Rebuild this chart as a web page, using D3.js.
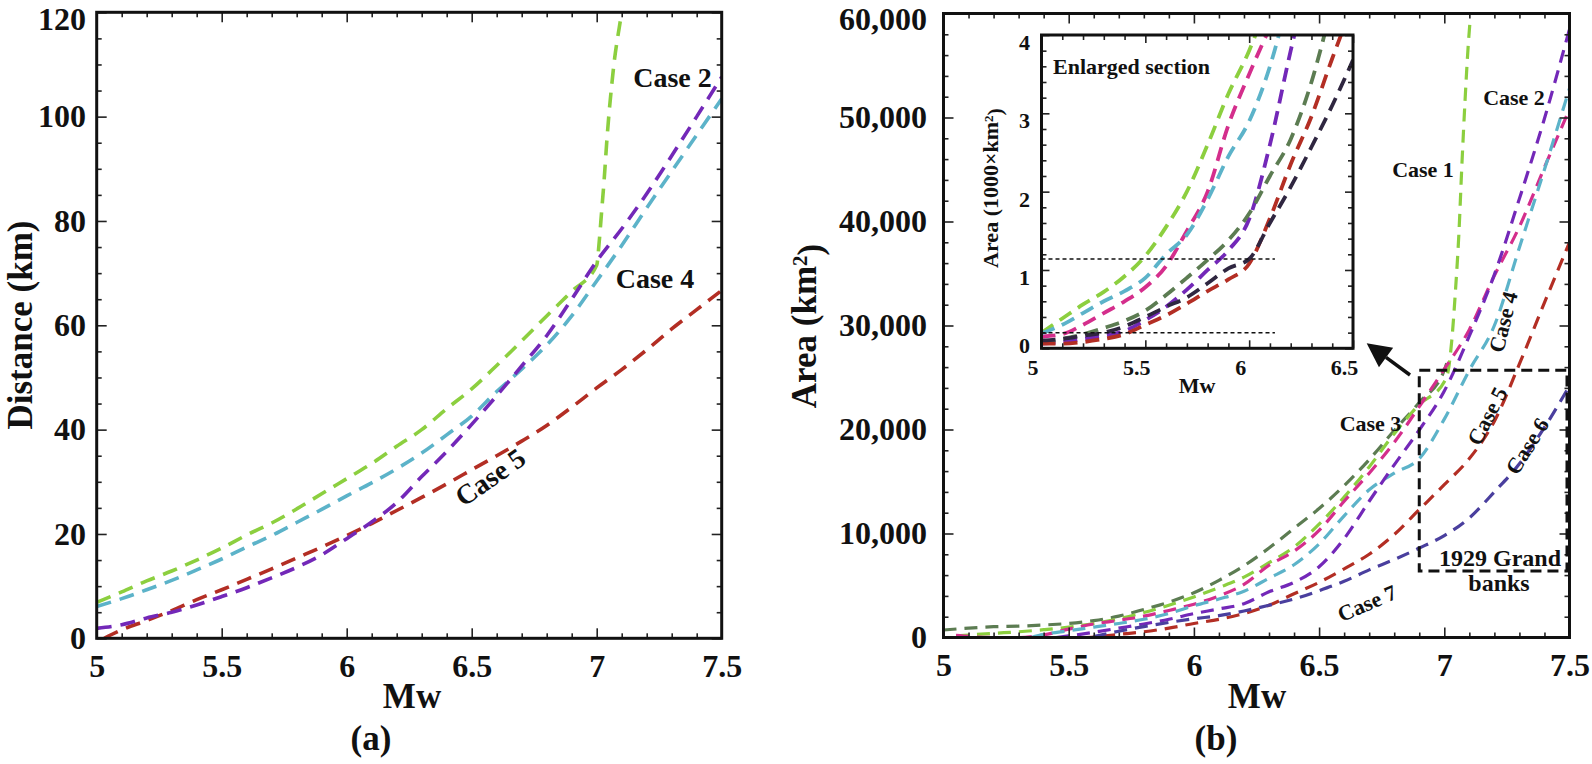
<!DOCTYPE html>
<html><head><meta charset="utf-8">
<script src="https://cdn.jsdelivr.net/npm/d3@7"></script>
<style>
html,body{margin:0;padding:0;background:#fff;}
svg text{font-family:"Liberation Serif","Times New Roman",serif;font-weight:bold;fill:#111;}
</style></head><body>
<svg id="chart" width="1592" height="764"></svg>
<script>
// ---------------- Panel (a): Distance (km) vs Mw ----------------
const aMajorX = [5, 5.5, 6, 6.5, 7, 7.5];
const aMinorX = [5.1,5.2,5.3,5.4,5.6,5.7,5.8,5.9,6.1,6.2,6.3,6.4,6.6,6.7,6.8,6.9,7.1,7.2,7.3,7.4];
const aMajorY = [0, 20, 40, 60, 80, 100, 120];
const aMinorY = [5,10,15,25,30,35,45,50,55,65,70,75,85,90,95,105,110,115];

const aMw = [5.0,5.1,5.2,5.3,5.4,5.5,5.6,5.7,5.8,5.9,6.0,6.1,6.2,6.3,6.4,6.5,6.6,6.7,6.8,6.9,7.0,7.1,7.2,7.3,7.4,7.5];
const aCase1Mw = [5.0,5.1,5.2,5.3,5.4,5.5,5.6,5.7,5.8,5.9,6.0,6.1,6.2,6.3,6.4,6.5,6.6,6.7,6.8,6.9,7.0,7.01,7.02,7.03,7.04,7.05,7.06,7.07,7.08,7.09,7.1];
const aCase1 = [6.9,8.9,11.0,12.9,15.0,17.3,19.8,22.1,24.8,27.7,30.6,33.5,36.8,40.0,44.0,47.8,52.3,57.0,61.8,66.5,71.5,76,82,88,95,101,106,110.5,114,117,120];
const aCase2 = [1.9,2.6,3.9,5.0,6.4,8.0,9.7,11.6,13.6,16.0,19.1,22.3,26.0,31.0,35.8,41.0,46.5,52.2,58.0,65.0,72.3,78.5,85.2,92.5,100.0,107.6];
const aCase4 = [6.1,7.6,9.3,11.1,13.1,15.2,17.5,19.7,22.2,24.7,27.3,29.8,32.5,35.5,39.0,42.6,47.3,51.6,56.2,61.8,68.5,75.3,82.5,89.5,96.5,103.4];
const aCase5Mw = [5.03,5.1,5.2,5.3,5.4,5.5,5.6,5.7,5.8,5.9,6.0,6.1,6.2,6.3,6.4,6.5,6.6,6.7,6.8,6.9,7.0,7.1,7.2,7.3,7.4,7.5];
const aCase5 = [0,1.6,3.4,5.3,7.4,9.3,11.3,13.3,15.4,17.5,19.7,22.0,24.5,27.0,29.6,32.3,35.0,37.8,40.8,44.3,48.0,51.5,55.3,59.3,63.0,66.7];

// ---------------- Panel (b): Area (km2) vs Mw ----------------
const bMajorX = [5, 5.5, 6, 6.5, 7, 7.5];
const bMinorX = [5.1,5.2,5.3,5.4,5.6,5.7,5.8,5.9,6.1,6.2,6.3,6.4,6.6,6.7,6.8,6.9,7.1,7.2,7.3,7.4];
const bMajorY = [0, 10000, 20000, 30000, 40000, 50000, 60000];
const bMinorY = [2000,4000,6000,8000,12000,14000,16000,18000,22000,24000,26000,28000,32000,34000,36000,38000,42000,44000,46000,48000,52000,54000,56000,58000];

const bCase1Mw = [5.05,5.2,5.3,5.4,5.5,5.6,5.7,5.8,5.9,6.0,6.1,6.2,6.3,6.4,6.5,6.6,6.7,6.8,6.9,7.0,7.016,7.03,7.045,7.058,7.07,7.083,7.096,7.103];
const bCase1 = [150,400,550,750,1000,1350,1800,2400,3100,3900,4800,5800,7200,8700,10900,13500,16400,19600,22400,24600,25700,28600,33500,38700,45300,51700,57100,59300];
const bCase2Mw = [5.45,5.5,5.6,5.7,5.8,5.9,6.0,6.1,6.2,6.3,6.4,6.5,6.6,6.7,6.8,6.9,7.0,7.1,7.2,7.3,7.4,7.5];
const bCase2 = [0,150,500,900,1300,1750,2300,2750,3250,4400,5300,6800,9500,13100,16600,19950,23700,29000,34900,42200,49900,58500];
const bCase3Mw = [5.0,5.1,5.2,5.3,5.4,5.5,5.6,5.7,5.8,5.9,6.0,6.1,6.2,6.3,6.4,6.5,6.6,6.7,6.8,6.9,7.0,7.01];
const bCase3 = [720,900,1040,1090,1200,1350,1620,2050,2700,3400,4300,5500,6900,8600,10500,12400,14600,17100,19900,22600,25700,26400];
const bCase4Mw = [5.35,5.4,5.5,5.6,5.7,5.8,5.9,6.0,6.1,6.2,6.3,6.4,6.5,6.6,6.7,6.8,6.9,7.0,7.1,7.2,7.3,7.4,7.5];
const bCase4 = [0,300,650,1000,1350,1750,2300,3050,3700,4450,5700,7000,9000,11700,14200,15800,17200,21000,25700,30000,37500,45000,52800];
const bCase5Mw = [5.55,5.6,5.7,5.8,5.9,6.0,6.1,6.2,6.3,6.4,6.5,6.6,6.7,6.8,6.9,7.0,7.1,7.2,7.3,7.4,7.5];
const bCase5 = [0,50,300,550,900,1350,1750,2300,3100,4200,5300,6600,8000,9900,12300,14700,17200,20800,26300,32200,38000];
const bCase6Mw = [5.6,5.7,5.8,5.9,6.0,6.1,6.2,6.3,6.4,6.5,6.6,6.7,6.8,6.9,7.0,7.1,7.2,7.3,7.4,7.5];
const bCase6 = [100,600,1050,1450,1800,2100,2550,3100,3700,4500,5400,6500,7500,8600,9800,11500,14000,16700,20200,24200];
const bCase7Mw = [5.05,5.1,5.2,5.3,5.4,5.5,5.6,5.7,5.8,5.9,6.0,6.1,6.2,6.3,6.4,6.5,6.6,6.7,6.8,6.9,7.0,7.1,7.2,7.3,7.4,7.5];
const bCase7 = [200,100,0,0,250,800,1300,1650,2050,2600,3200,4000,5100,6950,8300,10300,13100,15800,18750,22200,25800,29600,34800,39500,45200,50800];

// 1929 Grand Banks box and arrow (data units)
const boxMw = [6.9, 7.49];
const boxArea = [6400, 25700];
const arrowFrom = [6.863, 25240];
const arrowTo = [6.69, 28290];

// ---------------- Inset: Area (1000 x km2) ----------------
const insetMajorX = [5, 5.5, 6, 6.5];
const insetMinorX = [5.1,5.2,5.3,5.4,5.6,5.7,5.8,5.9,6.1,6.2,6.3,6.4];
const insetMajorY = [0, 1, 2, 3, 4];
const insetMinorY = [0.2,0.4,0.6,0.8,1.2,1.4,1.6,1.8,2.2,2.4,2.6,2.8,3.2,3.4,3.6,3.8];
const insetMw = [5.0,5.1,5.2,5.3,5.4,5.5,5.6,5.7,5.8,5.9,6.0,6.1,6.2,6.3,6.4,6.5];
const iCase1 = [0.2,0.38,0.56,0.72,0.92,1.18,1.55,2.0,2.6,3.25,3.8,4.5];
const iCase7 = [0.15,0.18,0.3,0.45,0.6,0.78,1.05,1.5,2.0,2.85,3.5,4.1];
const iCase4 = [0.19,0.3,0.45,0.6,0.73,0.9,1.2,1.45,1.9,2.45,2.9,3.6,4.6];
const iCase2 = [0.06,0.08,0.12,0.16,0.22,0.36,0.53,0.75,1.0,1.25,1.65,2.6,3.8,4.9];
const iCase3 = [0.08,0.12,0.18,0.26,0.35,0.48,0.68,0.9,1.13,1.38,1.72,2.2,2.67,3.4,4.4];
const iCase5 = [0.06,0.06,0.08,0.12,0.18,0.3,0.42,0.57,0.73,0.88,1.08,1.66,2.35,2.96,3.7,4.4];
const iCase6 = [0.1,0.12,0.16,0.2,0.28,0.4,0.53,0.65,0.83,1.02,1.14,1.6,2.06,2.57,3.1,3.68];
const insetRefLevels = [1.14, 0.2];
const insetRefMw = [5.0, 6.124];

const colors = {
  c1: "#8ccf3f", c2: "#7328b8", c3: "#5c7c52", c4: "#5cb3c9",
  c5: "#b32e24", c6: "#4a3f9e", c7: "#d42e8c", c6dark: "#2f2640"
};

// ---------------- drawing ----------------
const svg = d3.select("#chart");
const defs = svg.append("defs");

function clip(id, x0, y0, x1, y1) {
  defs.append("clipPath").attr("id", id).append("rect")
    .attr("x", x0).attr("y", y0).attr("width", x1 - x0).attr("height", y1 - y0);
}

function series(g, x, y, mw, vals, color, dash, w) {
  const line = d3.line().x((d, i) => x(mw[i])).y(d => y(d)).curve(d3.curveMonotoneX);
  g.append("path").datum(vals).attr("d", line).attr("fill", "none")
    .attr("stroke", color).attr("stroke-width", w).attr("stroke-dasharray", dash);
}

function axis(g, gen, tx, ty, fs) {
  const a = g.append("g").attr("transform", `translate(${tx},${ty})`).call(gen);
  a.select(".domain").remove();
  a.selectAll(".tick line").attr("stroke", "#222").attr("stroke-width", 1.6);
  a.selectAll(".tick text").attr("font-size", fs).attr("fill", "#111");
  return a;
}

function frameTicks(g, x, y, majX, minX, majY, minY, fmtY, fs, padX, padY, bigT, smallT) {
  const [x0, x1] = x.range();
  const [y0, y1] = y.range();
  const fx = d3.format("");
  const xa = axis(g, d3.axisBottom(x).tickValues(majX).tickSizeInner(-bigT).tickSizeOuter(0).tickPadding(padX).tickFormat(fx), 0, y0, fs);
  axis(g, d3.axisBottom(x).tickValues(minX).tickSizeInner(-smallT).tickSizeOuter(0).tickFormat(""), 0, y0, fs);
  axis(g, d3.axisTop(x).tickValues(majX).tickSizeInner(-bigT).tickSizeOuter(0).tickFormat(""), 0, y1, fs);
  axis(g, d3.axisTop(x).tickValues(minX).tickSizeInner(-smallT).tickSizeOuter(0).tickFormat(""), 0, y1, fs);
  const ya = axis(g, d3.axisLeft(y).tickValues(majY).tickSizeInner(-bigT).tickSizeOuter(0).tickPadding(padY).tickFormat(fmtY), x0, 0, fs);
  axis(g, d3.axisLeft(y).tickValues(minY).tickSizeInner(-smallT).tickSizeOuter(0).tickFormat(""), x0, 0, fs);
  axis(g, d3.axisRight(y).tickValues(majY).tickSizeInner(-bigT).tickSizeOuter(0).tickFormat(""), x1, 0, fs);
  axis(g, d3.axisRight(y).tickValues(minY).tickSizeInner(-smallT).tickSizeOuter(0).tickFormat(""), x1, 0, fs);
  return { xa, ya };
}

function frame(g, x, y, w) {
  const [x0, x1] = x.range();
  const [y0, y1] = y.range();
  g.append("rect").attr("x", x0).attr("y", y1).attr("width", x1 - x0).attr("height", y0 - y1)
    .attr("fill", "none").attr("stroke", "#111").attr("stroke-width", w);
}

function label(g, txt, x, y, fs, rot, anchor) {
  g.append("text").attr("transform", `translate(${x},${y}) rotate(${rot || 0})`)
    .attr("text-anchor", anchor || "middle").attr("dy", "0.35em").attr("font-size", fs).text(txt);
}

// ===== Panel (a) =====
const xA = d3.scaleLinear().domain([5, 7.5]).range([96.7, 721.7]);
const yA = d3.scaleLinear().domain([0, 120]).range([638.3, 12.3]);
clip("clipA", 96.7, 12.3, 721.7, 638.3);
const gA = svg.append("g");
const gAc = gA.append("g").attr("clip-path", "url(#clipA)");
const dashA = "15,9";
series(gAc, xA, yA, aCase5Mw, aCase5, colors.c5, dashA, 3.6);
series(gAc, xA, yA, aMw, aCase4, colors.c4, dashA, 3.6);
series(gAc, xA, yA, aCase1Mw, aCase1, colors.c1, dashA, 3.6);
series(gAc, xA, yA, aMw, aCase2, colors.c2, dashA, 3.6);
const axA = frameTicks(gA, xA, yA, aMajorX, aMinorX, aMajorY, aMinorY, d3.format(""), 32, 16, 10.7, 10, 5);
axA.ya.selectAll(".tick text").attr("dy", d => d === 120 ? "0.54em" : "0.32em");
frame(gA, xA, yA, 3);

gA.append("text").attr("transform", "translate(32,325) rotate(-90)").attr("text-anchor", "middle")
  .attr("font-size", 35).text("Distance (km)");
gA.append("text").attr("x", 412).attr("y", 708).attr("text-anchor", "middle").attr("font-size", 35).text("Mw");
gA.append("text").attr("x", 371).attr("y", 750).attr("text-anchor", "middle").attr("font-size", 35).text("(a)");
label(gA, "Case 2", 672.5, 77, 28);
label(gA, "Case 4", 655, 278, 28);
label(gA, "Case 5", 490, 477, 28, -35);

// ===== Panel (b) =====
const xB = d3.scaleLinear().domain([5, 7.5]).range([943.5, 1569.5]);
const yB = d3.scaleLinear().domain([0, 60000]).range([637.5, 13.5]);
clip("clipB", 943.5, 13.5, 1569.5, 637.5);
const gB = svg.append("g");
const gBc = gB.append("g").attr("clip-path", "url(#clipB)");
const dashB = "13,8";
series(gBc, xB, yB, bCase3Mw, bCase3, colors.c3, dashB, 3.2);
series(gBc, xB, yB, bCase1Mw, bCase1, colors.c1, dashB, 3.2);
series(gBc, xB, yB, bCase7Mw, bCase7, colors.c7, dashB, 3.2);
series(gBc, xB, yB, bCase4Mw, bCase4, colors.c4, dashB, 3.2);
series(gBc, xB, yB, bCase2Mw, bCase2, colors.c2, dashB, 3.2);
series(gBc, xB, yB, bCase5Mw, bCase5, colors.c5, dashB, 3.2);
series(gBc, xB, yB, bCase6Mw, bCase6, colors.c6, dashB, 3.2);
const axB = frameTicks(gB, xB, yB, bMajorX, bMinorX, bMajorY, bMinorY, d3.format(","), 32, 16, 16.5, 10, 5);
axB.ya.selectAll(".tick text").attr("dy", d => d === 60000 ? "0.5em" : "0.32em");
frame(gB, xB, yB, 3);

// Grand Banks box
gB.append("rect").attr("x", xB(boxMw[0])).attr("y", yB(boxArea[1]))
  .attr("width", xB(boxMw[1]) - xB(boxMw[0])).attr("height", yB(boxArea[0]) - yB(boxArea[1]))
  .attr("fill", "none").attr("stroke", "#111").attr("stroke-width", 3).attr("stroke-dasharray", "11,6");
// arrow
{
  const fx = xB(arrowFrom[0]), fy = yB(arrowFrom[1]);
  const tx = xB(arrowTo[0]), ty = yB(arrowTo[1]);
  const ang = Math.atan2(ty - fy, tx - fx);
  const hl = 24, hw = 12;
  const bx = tx - hl * Math.cos(ang), by = ty - hl * Math.sin(ang);
  gB.append("line").attr("x1", fx).attr("y1", fy).attr("x2", bx).attr("y2", by)
    .attr("stroke", "#111").attr("stroke-width", 3.5);
  const px = -Math.sin(ang), py = Math.cos(ang);
  gB.append("path").attr("d", `M${tx},${ty}L${bx + px * hw},${by + py * hw}L${bx - px * hw},${by - py * hw}Z`)
    .attr("fill", "#111");
}

const tA = gB.append("text").attr("transform", "translate(816,326) rotate(-90)").attr("text-anchor", "middle").attr("font-size", 35);
tA.append("tspan").text("Area (km");
tA.append("tspan").attr("dy", "-0.42em").attr("font-size", 21).text("2");
tA.append("tspan").attr("dy", "0.42em").text(")");
gB.append("text").attr("x", 1257).attr("y", 708).attr("text-anchor", "middle").attr("font-size", 35).text("Mw");
gB.append("text").attr("x", 1216).attr("y", 750).attr("text-anchor", "middle").attr("font-size", 35).text("(b)");

label(gB, "Case 1", 1423, 169, 22);
label(gB, "Case 2", 1514, 97, 22);
label(gB, "Case 3", 1370.5, 423, 22);
label(gB, "Case 4", 1503, 322, 22, -76);
label(gB, "Case 5", 1487, 416, 22, -63);
label(gB, "Case 6", 1527, 446, 22, -58);
label(gB, "Case 7", 1367, 603, 22, -23);
label(gB, "1929 Grand", 1500, 558, 24);
label(gB, "banks", 1499, 583, 24);

// ===== Inset =====
const xI = d3.scaleLinear().domain([5, 6.5]).range([1041.5, 1353]);
const yI = d3.scaleLinear().domain([0, 4]).range([348.3, 35]);
clip("clipI", 1041.5, 35, 1353, 348.3);
const gI = svg.append("g");
gI.append("rect").attr("x", 1041.5).attr("y", 35).attr("width", 1353 - 1041.5).attr("height", 348.3 - 35).attr("fill", "#fff");
const gIc = gI.append("g").attr("clip-path", "url(#clipI)");
const dashI = "14,8";
series(gIc, xI, yI, insetMw, iCase1, colors.c1, dashI, 3.8);
series(gIc, xI, yI, insetMw, iCase7, colors.c7, dashI, 3.8);
series(gIc, xI, yI, insetMw, iCase4, colors.c4, dashI, 3.8);
series(gIc, xI, yI, insetMw, iCase2, colors.c2, dashI, 3.8);
series(gIc, xI, yI, insetMw, iCase3, colors.c3, dashI, 3.8);
series(gIc, xI, yI, insetMw, iCase5, colors.c5, dashI, 3.8);
series(gIc, xI, yI, insetMw, iCase6, colors.c6dark, dashI, 3.8);
insetRefLevels.forEach(v => {
  gIc.append("line").attr("x1", xI(insetRefMw[0])).attr("x2", xI(insetRefMw[1]))
    .attr("y1", yI(v)).attr("y2", yI(v)).attr("stroke", "#111").attr("stroke-width", 1.5).attr("stroke-dasharray", "4,3");
});
const axI = frameTicks(gI, xI, yI, insetMajorX, insetMinorX, insetMajorY, insetMinorY, d3.format(""), 22, 11, 11.5, 8, 5);
axI.ya.selectAll(".tick text").attr("dy", d => d === 0 ? "0.18em" : "0.66em");
axI.xa.selectAll(".tick text").attr("x", -9);
frame(gI, xI, yI, 3);

const tI = gI.append("text").attr("transform", "translate(998,188) rotate(-90)").attr("text-anchor", "middle").attr("font-size", 22);
tI.append("tspan").text("Area (1000×km");
tI.append("tspan").attr("dy", "-0.42em").attr("font-size", 13).text("2");
tI.append("tspan").attr("dy", "0.42em").text(")");
gI.append("text").attr("x", 1197).attr("y", 393).attr("text-anchor", "middle").attr("font-size", 22).text("Mw");
gI.append("text").attr("x", 1053).attr("y", 74).attr("font-size", 22).text("Enlarged section");
</script></body></html>
